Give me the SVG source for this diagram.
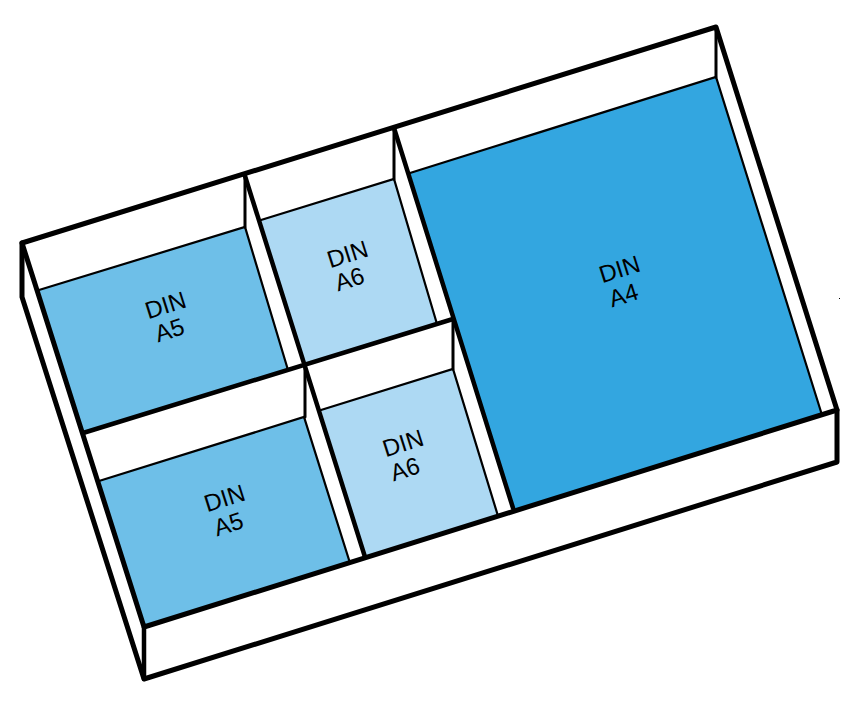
<svg xmlns="http://www.w3.org/2000/svg" width="854" height="704" viewBox="0 0 854 704">
<style>
.floor{stroke:none}
.a4{fill:#33a6e0}.a5{fill:#6ebfe8}.a6{fill:#add9f3}
.outer{fill:none;stroke:#000;stroke-width:5;stroke-linejoin:round;stroke-linecap:round}
.thick{fill:none;stroke:#000;stroke-width:4.5;stroke-linecap:round}
.mid{fill:none;stroke:#000;stroke-width:3;stroke-linecap:round}
.thin{fill:none;stroke:#000;stroke-width:2.2;stroke-linecap:round}
text{font-family:"Liberation Sans",Arial,sans-serif;font-size:24px;fill:#000;text-anchor:middle}
</style>
<rect width="854" height="704" fill="#fff"/>
<g id="box">
<polygon points="22,243 716,27 837,410 837,462 144,679 22,297" fill="#fff"/>
</g>
<g id="floor-a4"><polygon class="floor a4" points="410,173 716,77 822,415 513,511"/><path class="thin" d="M410,173L716,77L822,415"/><text transform="translate(622,277) rotate(-17.5)">DIN</text><text transform="translate(626,303) rotate(-17.5)">A4</text></g>
<g id="floor-a5-top"><polygon class="floor a5" points="39,290 245,227 288,370 83,433"/><path class="thin" d="M39,290L245,227L288,370"/><text transform="translate(168,313) rotate(-17.5)">DIN</text><text transform="translate(172,338) rotate(-17.5)">A5</text></g>
<g id="floor-a5-bottom"><polygon class="floor a5" points="99,481 304,417 350,563 143,627"/><path class="thin" d="M99,481L304,417L350,563"/><text transform="translate(227,506) rotate(-17.5)">DIN</text><text transform="translate(231,532) rotate(-17.5)">A5</text></g>
<g id="floor-a6-top"><polygon class="floor a6" points="261,220 394,179 437,324 305,365"/><path class="thin" d="M261,220L394,179L437,324"/><text transform="translate(350,262) rotate(-17.5)">DIN</text><text transform="translate(352,287) rotate(-17.5)">A6</text></g>
<g id="floor-a6-bottom"><polygon class="floor a6" points="321,410 453,369 498,516 366,558"/><path class="thin" d="M321,410L453,369L498,516"/><text transform="translate(405.500,451) rotate(-17.5)">DIN</text><text transform="translate(407.500,477) rotate(-17.5)">A6</text></g>
<g id="connectors">
<path class="outer" d="M22,243L716,27L837,410L144,627Z"/>
<path class="outer" d="M837,410V462L144,679L22,297V243"/>
<path class="thick" d="M144,627V679"/>
<path class="thick" d="M245,176L365,557M394,128L513,508M83,433L453,319"/>
<path class="mid" d="M245,176V227M394,128V179M305,365V417M453,319V369M716,27V77"/>
<rect x="839" y="298" width="1" height="1" fill="#000"/>
</g>
</svg>
